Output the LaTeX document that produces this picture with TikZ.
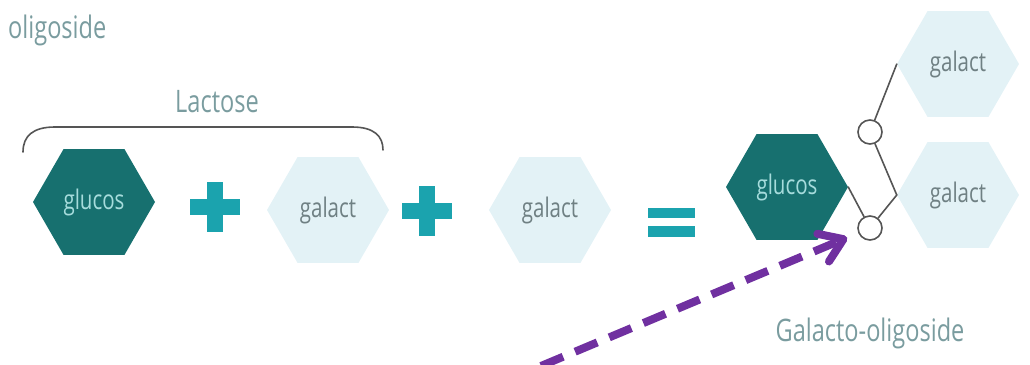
\documentclass[tikz,border=0pt]{standalone}
\usepackage{fontspec}
\setmainfont[FakeStretch=0.76]{Open Sans}
\usetikzlibrary{shapes.geometric,arrows.meta}
\definecolor{darkteal}{HTML}{17706F}
\definecolor{lighthex}{HTML}{E3F2F6}
\definecolor{plusteal}{HTML}{1BA3AE}
\definecolor{labelgray}{HTML}{7A9C9F}
\definecolor{galtext}{HTML}{6F8083}
\definecolor{glutext}{HTML}{A6DCDC}
\definecolor{linkgray}{HTML}{555555}
\definecolor{arrowpurple}{HTML}{7030A0}
\tikzset{
  hexbase/.style={regular polygon, regular polygon sides=6, minimum size=122pt, inner sep=0pt, font=\fontsize{27}{30}\selectfont},
  glucoshex/.style={hexbase, fill=darkteal, text=glutext},
  galacthex/.style={hexbase, fill=lighthex, text=galtext},
  label/.style={text=labelgray, font=\fontsize{31}{34}\selectfont, inner sep=0pt},
  link/.style={draw=linkgray, line width=1.6pt, line cap=round},
  joint/.style={circle, draw=linkgray, line width=1.6pt, fill=white, minimum size=24pt, inner sep=0pt},
  opbar/.style={fill=plusteal},
  pointer/.style={draw=arrowpurple, line width=8pt, dash pattern=on 24pt off 13pt, -{Straight Barb[length=22pt,width=30pt,round]}},
}
\begin{document}
\begin{tikzpicture}[x=1pt,y=-1pt]
\useasboundingbox (0,0) rectangle (1030,364);
% top-left label
\node[label, anchor=base west] (olig) at (8,38) {oligoside};
% Lactose bracket and label
\node[label] (lact) at (217,102) {Lactose};
\draw[link] (23,152) .. controls (23,136) and (33,127) .. (55,127) -- (352,127) .. controls (374,127) and (383,136) .. (383,150);
% hexagons
\node[glucoshex] (glu1) at (94,202) {glucos};
\node[galacthex] (gal1) at (328,210) {galact};
\node[galacthex] (gal2) at (550,210) {galact};
\node[glucoshex] (glu2) at (787,187) {glucos};
\node[galacthex] (galT) at (958,64) {galact};
\node[galacthex] (galB) at (958,195) {galact};
% plus signs
\fill[opbar] (190,199) rectangle (240,215);
\fill[opbar] (207,182) rectangle (223,232);
\fill[opbar] (402,203) rectangle (452,219);
\fill[opbar] (419,186) rectangle (435,236);
% equals sign
\fill[opbar] (648,208) rectangle (695,218);
\fill[opbar] (648,226) rectangle (695,237);
% glycosidic links
\node[joint] (c1) at (870,132) {};
\node[joint] (c2) at (870,228) {};
\draw[link] (glu2.0) -- (c2);
\draw[link] (c2) -- (galB.180);
\draw[link] (galB.180) -- (c1);
\draw[link] (c1) -- (galT.180);
% label
\node[label] (goslabel) at (870,333) {Galacto-oligoside};
% purple arrow
\coordinate (astart) at (541,366);
\draw[pointer, shorten >=12pt] (astart) -- (c2);
\end{tikzpicture}
\end{document}
